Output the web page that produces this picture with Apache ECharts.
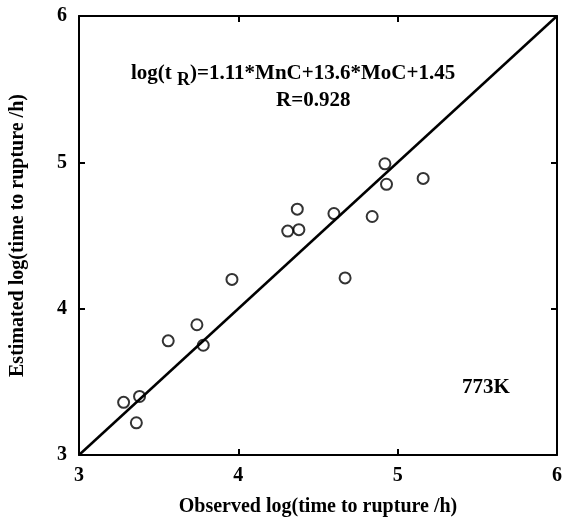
<!DOCTYPE html>
<html><head><meta charset="utf-8">
<script src="https://cdn.jsdelivr.net/npm/echarts@6/dist/echarts.min.js"></script>
<style>html,body{margin:0;padding:0;background:#fff}#c{width:566px;height:525px}</style>
</head><body><div id="c"></div>
<script>
// Data
const observed  = [4.92, 4.93, 5.16, 4.84, 4.60, 4.37, 4.31, 4.38, 4.67, 3.96, 3.74, 3.56, 3.78, 3.28, 3.38, 3.36];
const estimated = [4.99, 4.85, 4.89, 4.63, 4.65, 4.68, 4.53, 4.54, 4.21, 4.20, 3.89, 3.78, 3.75, 3.36, 3.40, 3.22];
const lineX = [3, 6];
const lineY = [3, 6];
const axisMin = 3, axisMax = 6, axisStep = 1;
const xTitle = 'Observed log(time to rupture /h)';
const yTitle = 'Estimated log(time to rupture /h)';
const formulaParts = ['log(t ', 'R', ')=1.11*MnC+13.6*MoC+1.45'];
const rText = 'R=0.928';
const tempText = '773K';

const FONT = '"Liberation Serif","Times New Roman",serif';
const chart = echarts.init(document.getElementById('c'), null, {renderer: 'canvas'});

const pts = observed.map((v, i) => [v, estimated[i]]);
const linePts = lineX.map((v, i) => [v, lineY[i]]);

const baseAxis = {
  type: 'value', min: axisMin, max: axisMax, interval: axisStep,
  axisLine: {show: true, onZero: false, lineStyle: {color: '#000', width: 2}},
  axisTick: {show: true, inside: true, length: 6, lineStyle: {color: '#000', width: 2}},
  splitLine: {show: false},
};

chart.setOption({
  animation: false,
  backgroundColor: '#fff',
  grid: {left: 78, right: 9, top: 16, bottom: 70, containLabel: false},
  title: [
    {
      text: '{a|' + formulaParts[0] + '}{s|' + formulaParts[1] + '}{a|' + formulaParts[2] + '}',
      left: 131, top: 58, padding: 0,
      textStyle: {
        rich: {
          a: {fontFamily: FONT, fontWeight: 'bold', fontSize: 21, color: '#000'},
          s: {fontFamily: FONT, fontWeight: 'bold', fontSize: 18, color: '#000', padding: [13, 0, 0, 0]}
        }
      }
    },
    {text: rText, left: 276, top: 90, padding: 0,
     textStyle: {fontFamily: FONT, fontWeight: 'bold', fontSize: 21, color: '#000'}},
    {text: tempText, left: 462, top: 377, padding: 0,
     textStyle: {fontFamily: FONT, fontWeight: 'bold', fontSize: 21, color: '#000'}}
  ],
  xAxis: [
    Object.assign({}, baseAxis, {
      position: 'bottom',
      name: xTitle, nameLocation: 'middle', nameGap: 42,
      nameTextStyle: {fontFamily: FONT, fontWeight: 'bold', fontSize: 20, color: '#000'},
      axisLabel: {show: true, margin: 11, fontFamily: FONT, fontWeight: 'bold', fontSize: 20, color: '#000'}
    }),
    Object.assign({}, baseAxis, {position: 'top', axisLabel: {show: false}})
  ],
  yAxis: [
    Object.assign({}, baseAxis, {
      position: 'left',
      name: yTitle, nameLocation: 'middle', nameGap: 51, nameRotate: 90,
      nameTextStyle: {fontFamily: FONT, fontWeight: 'bold', fontSize: 20, color: '#000'},
      axisLabel: {show: true, margin: 12, fontFamily: FONT, fontWeight: 'bold', fontSize: 20, color: '#000'}
    }),
    Object.assign({}, baseAxis, {position: 'right', axisLabel: {show: false}})
  ],
  series: [
    {
      type: 'line', data: linePts, symbol: 'none', silent: true,
      lineStyle: {color: '#000', width: 2.5}
    },
    {
      type: 'scatter', data: pts, symbol: 'circle', symbolSize: 11,
      itemStyle: {color: 'rgba(255,255,255,0)', borderColor: '#000', borderWidth: 2}
    }
  ]
});
</script>
</body></html>
